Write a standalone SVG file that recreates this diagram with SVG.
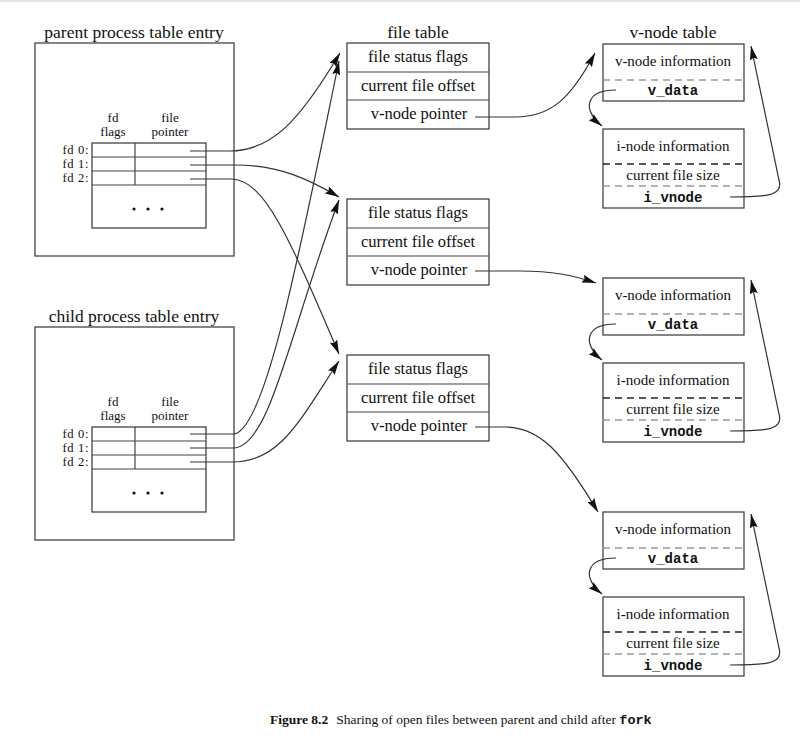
<svg xmlns="http://www.w3.org/2000/svg" width="800" height="743" viewBox="0 0 800 743">
<defs>
<marker id="ah" markerUnits="userSpaceOnUse" viewBox="0 0 14 8" refX="14" refY="4" markerWidth="14" markerHeight="8" orient="auto">
<path d="M0,0 L14,4 L0,8 L2,4 z" fill="#111"/>
</marker>
<style>
.box{fill:none;stroke:#444;stroke-width:1.3}
.ln{fill:none;stroke:#444;stroke-width:1.2}
.gd{stroke:#999;stroke-width:1.3;stroke-dasharray:7,5}
.bd{stroke:#222;stroke-width:1.3;stroke-dasharray:7,5}
.t{font-family:"Liberation Serif","Times New Roman",serif;fill:#111}
.title{font-size:17.5px;text-anchor:middle}
.ft{font-size:16.5px;text-anchor:middle}
.vt{font-size:15px;text-anchor:middle}
.hd{font-size:13px;text-anchor:middle}
.fd{font-size:12.6px;text-anchor:end;letter-spacing:0.6px}
.m{font-family:"Liberation Mono","Courier New",monospace;font-size:14px;font-weight:bold;text-anchor:middle;fill:#111}
.c{fill:none;stroke:#333;stroke-width:1.2;marker-end:url(#ah)}
</style>
</defs>
<rect width="800" height="743" fill="#fff"/>
<line x1="0" y1="1" x2="800" y2="1" stroke="#ddd" stroke-width="1.5"/>

<g id="parent">
<text class="t title" x="134" y="38">parent process table entry</text>
<rect class="box" x="35" y="43" width="199" height="213"/>
<text class="t hd" x="113" y="122">fd</text>
<text class="t hd" x="113" y="136">flags</text>
<text class="t hd" x="170" y="122">file</text>
<text class="t hd" x="170" y="136">pointer</text>
<rect class="box" x="92" y="143" width="114" height="85"/>
<line class="ln" x1="92" y1="157" x2="206" y2="157"/>
<line class="ln" x1="92" y1="171" x2="206" y2="171"/>
<line class="ln" x1="92" y1="185" x2="206" y2="185"/>
<line class="ln" x1="135" y1="143" x2="135" y2="185"/>
<text class="t fd" x="89" y="154">fd 0:</text>
<text class="t fd" x="89" y="168">fd 1:</text>
<text class="t fd" x="89" y="182">fd 2:</text>
<circle cx="134" cy="209" r="1.6" fill="#111"/>
<circle cx="148" cy="209" r="1.6" fill="#111"/>
<circle cx="162" cy="209" r="1.6" fill="#111"/>
</g>

<g id="child">
<text class="t title" x="134" y="322">child process table entry</text>
<rect class="box" x="35" y="327" width="199" height="213"/>
<text class="t hd" x="113" y="406">fd</text>
<text class="t hd" x="113" y="420">flags</text>
<text class="t hd" x="170" y="406">file</text>
<text class="t hd" x="170" y="420">pointer</text>
<rect class="box" x="92" y="427" width="114" height="85"/>
<line class="ln" x1="92" y1="441" x2="206" y2="441"/>
<line class="ln" x1="92" y1="455" x2="206" y2="455"/>
<line class="ln" x1="92" y1="469" x2="206" y2="469"/>
<line class="ln" x1="135" y1="427" x2="135" y2="469"/>
<text class="t fd" x="89" y="438">fd 0:</text>
<text class="t fd" x="89" y="452">fd 1:</text>
<text class="t fd" x="89" y="466">fd 2:</text>
<circle cx="134" cy="493" r="1.6" fill="#111"/>
<circle cx="148" cy="493" r="1.6" fill="#111"/>
<circle cx="162" cy="493" r="1.6" fill="#111"/>
</g>

<text class="t title" x="418" y="38">file table</text>
<g id="file1">
<rect class="box" x="347" y="43" width="142" height="86"/>
<line class="ln" x1="347" y1="72" x2="489" y2="72"/>
<line class="ln" x1="347" y1="100" x2="489" y2="100"/>
<text class="t ft" x="418" y="62">file status flags</text>
<text class="t ft" x="418" y="91">current file offset</text>
<text class="t ft" x="419" y="119">v-node pointer</text>
</g>
<g id="file2">
<rect class="box" x="347" y="199" width="142" height="86"/>
<line class="ln" x1="347" y1="228" x2="489" y2="228"/>
<line class="ln" x1="347" y1="256" x2="489" y2="256"/>
<text class="t ft" x="418" y="218">file status flags</text>
<text class="t ft" x="418" y="247">current file offset</text>
<text class="t ft" x="419" y="275">v-node pointer</text>
</g>
<g id="file3">
<rect class="box" x="347" y="355" width="142" height="86"/>
<line class="ln" x1="347" y1="384" x2="489" y2="384"/>
<line class="ln" x1="347" y1="412" x2="489" y2="412"/>
<text class="t ft" x="418" y="374">file status flags</text>
<text class="t ft" x="418" y="403">current file offset</text>
<text class="t ft" x="419" y="431">v-node pointer</text>
</g>

<text class="t title" x="673" y="38">v-node table</text>
<g id="vnode1">
<rect class="box" x="603" y="44" width="141" height="57"/>
<line class="gd" x1="603" y1="80" x2="744" y2="80"/>
<text class="t vt" x="673" y="66">v-node information</text>
<text class="m" x="673" y="95">v_data</text>
</g>
<g id="inode1">
<rect class="box" x="603" y="129" width="141" height="79"/>
<line class="bd" x1="603" y1="164" x2="744" y2="164"/>
<line class="gd" x1="603" y1="186" x2="744" y2="186"/>
<text class="t vt" x="673" y="151">i-node information</text>
<text class="t vt" x="673" y="180">current file size</text>
<text class="m" x="673" y="202">i_vnode</text>
</g>
<g id="vnode2">
<rect class="box" x="603" y="278" width="141" height="57"/>
<line class="gd" x1="603" y1="314" x2="744" y2="314"/>
<text class="t vt" x="673" y="300">v-node information</text>
<text class="m" x="673" y="329">v_data</text>
</g>
<g id="inode2">
<rect class="box" x="603" y="363" width="141" height="79"/>
<line class="bd" x1="603" y1="398" x2="744" y2="398"/>
<line class="gd" x1="603" y1="420" x2="744" y2="420"/>
<text class="t vt" x="673" y="385">i-node information</text>
<text class="t vt" x="673" y="414">current file size</text>
<text class="m" x="673" y="436">i_vnode</text>
</g>
<g id="vnode3">
<rect class="box" x="603" y="512" width="141" height="57"/>
<line class="gd" x1="603" y1="548" x2="744" y2="548"/>
<text class="t vt" x="673" y="534">v-node information</text>
<text class="m" x="673" y="563">v_data</text>
</g>
<g id="inode3">
<rect class="box" x="603" y="597" width="141" height="79"/>
<line class="bd" x1="603" y1="632" x2="744" y2="632"/>
<line class="gd" x1="603" y1="654" x2="744" y2="654"/>
<text class="t vt" x="673" y="619">i-node information</text>
<text class="t vt" x="673" y="648">current file size</text>
<text class="m" x="673" y="670">i_vnode</text>
</g>

<g id="connectors">
<path class="c" d="M190,151 L230,151 C272,151 300,120 340,53"/>
<path class="c" d="M190,165 L235,165 C280,165 310,180 339,197"/>
<path class="c" d="M190,179 L232,179 C265,181 288,235 339,354"/>
<path class="c" d="M190,434 L233,434 C265,434 300,250 339,61"/>
<path class="c" d="M190,448 L233,448 C270,448 290,330 339,200"/>
<path class="c" d="M190,462 L233,462 C280,462 300,420 339,361"/>
<path class="c" d="M475,117 L515,117 C550,117 570,100 595,53"/>
<path class="c" d="M475,271 L520,271 C552,271 572,275 596,283"/>
<path class="c" d="M475,427 L505,427 C540,427 562,452 598,512"/>
<path class="c" d="M616,90 C585,90 582,110 602,126"/>
<path class="c" d="M616,324 C585,324 582,344 602,360"/>
<path class="c" d="M616,558 C585,558 582,578 602,594"/>
<path class="c" d="M730,197 C762,197 784,197 779,180 L751,46"/>
<path class="c" d="M730,431 C762,431 784,431 779,414 L751,280"/>
<path class="c" d="M730,665 C762,665 784,665 779,648 L751,514"/>
</g>

<g id="caption">
<text x="270" y="724" font-family="Liberation Serif,'Times New Roman',serif" font-size="13.5" fill="#111"><tspan font-weight="bold">Figure 8.2</tspan><tspan dx="8">Sharing of open files between parent and child after </tspan><tspan font-family="Liberation Mono,'Courier New',monospace" font-weight="bold">fork</tspan></text>
</g>
</svg>
